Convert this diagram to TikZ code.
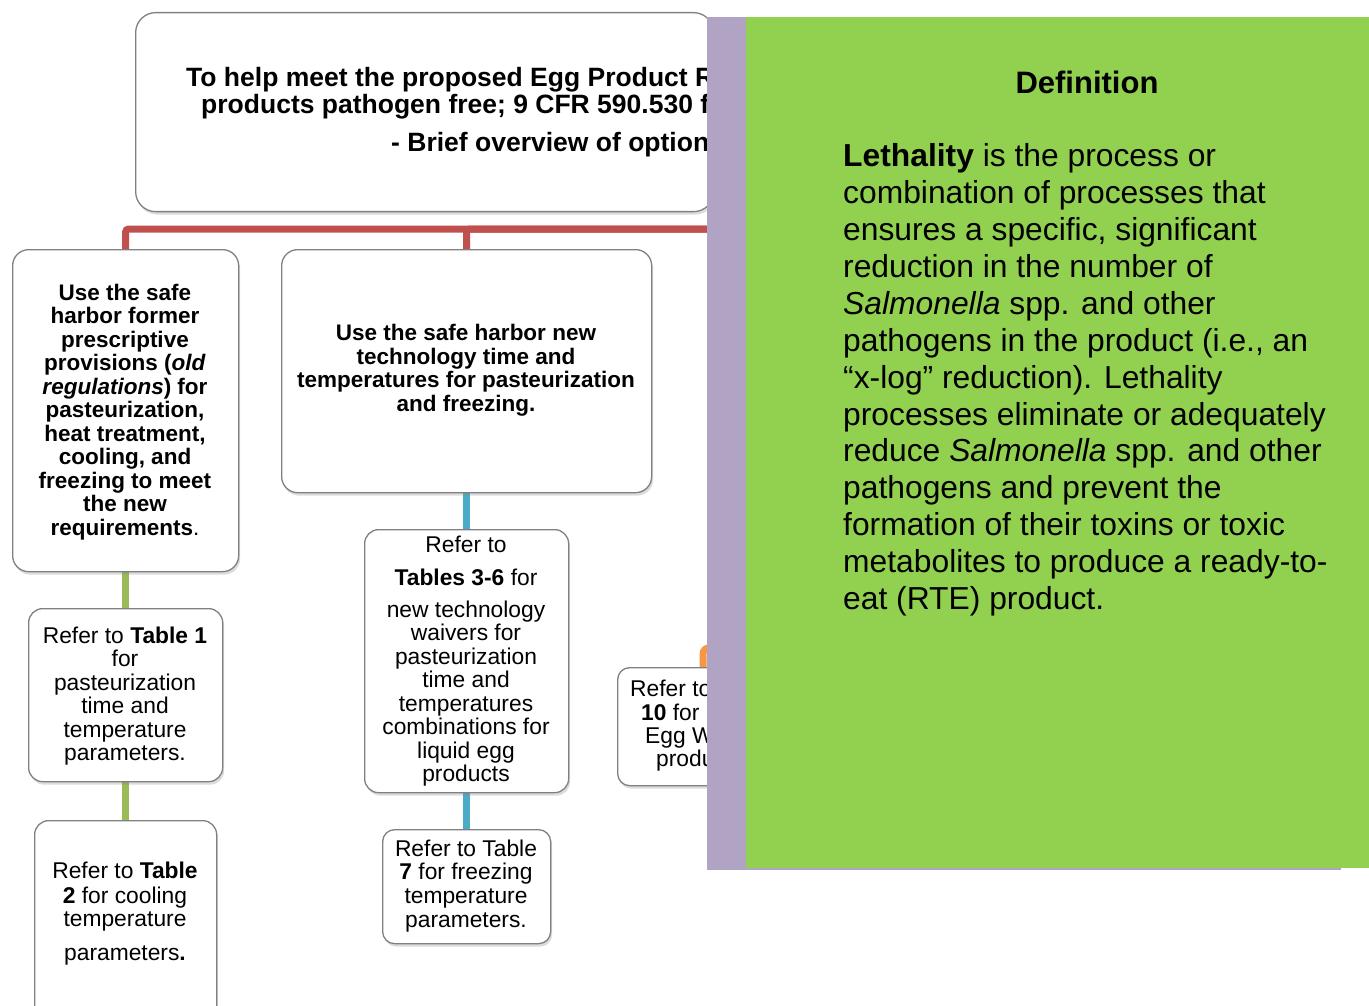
\documentclass[tikz,border=0pt]{standalone}
\usepackage{fontspec}
\setmainfont{Liberation Sans}
\usetikzlibrary{shadows,backgrounds}
\definecolor{cred}{HTML}{C0504D}
\definecolor{cgreenline}{HTML}{9BBB59}
\definecolor{cblue}{HTML}{4BACC6}
\definecolor{corange}{HTML}{F79646}
\definecolor{cpurple}{HTML}{B1A3C3}
\definecolor{cpanel}{HTML}{92D050}
\definecolor{boxgray}{HTML}{808080}
\newcommand{\myBold}{\fontsize{22.5}{23.5}\selectfont\bfseries}
\newcommand{\myReg}{\fontsize{22.8}{23.5}\selectfont}
\newcommand{\myTop}{\fontsize{26.5}{28}\selectfont\bfseries}
\newcommand{\myDef}{\fontsize{31.8}{36.9}\selectfont}
\begin{document}
\begin{tikzpicture}[x=1pt,y=-1pt,
  box/.style={draw=boxgray, line width=1.3pt, fill=white, rounded corners=#1,
    inner sep=0pt, anchor=north west,
    drop shadow={opacity=0.28, shadow xshift=1.5pt, shadow yshift=-3pt}},
  box/.default=16pt,
  txt/.style={inner sep=0pt, align=center, anchor=north},
  conn/.style={draw=#1, line width=7pt, rounded corners=3pt}
]
\useasboundingbox (0,0) rectangle (1369,1006);

% ---------- boxes ----------
\node[box=20pt, minimum width=578pt, minimum height=199pt] (top) at (135,12) {};
\node[box, minimum width=226pt, minimum height=322pt] (L1) at (12,249) {};
\node[box=14pt, minimum width=194pt, minimum height=173pt] (L2) at (28,608) {};
\node[box=14pt, minimum width=182pt, minimum height=200pt] (L3) at (34,820) {};
\node[box, minimum width=370pt, minimum height=243pt] (M1) at (281,249) {};
\node[box=14pt, minimum width=204pt, minimum height=263pt] (M2) at (364,529) {};
\node[box=12pt, minimum width=168pt, minimum height=114pt] (M3) at (382,829) {};
\node[box=12pt, minimum width=200pt, minimum height=118pt] (R) at (617,667) {};

% ---------- connectors ----------
\coordinate (topout) at (760,211);
\coordinate (oA) at (770,600);
\coordinate (ojoin) at (703,648);
\begin{scope}[on background layer]
\draw[conn=cred] (topout) -- ++(0,18) -| (L1.north);
\draw[conn=cred] (topout) -- ++(0,18) -| (M1.north);
\draw[conn=cgreenline] (L1.south) -- (L2.north);
\draw[conn=cgreenline] (L2.south) -- (L3.north);
\draw[conn=cblue] (M1.south) -- (M2.north);
\draw[conn=cblue] (M2.south) -- (M3.north);
\draw[conn=corange, rounded corners=6pt] (oA) |- (ojoin) -- (ojoin |- R.north);
\end{scope}

% ---------- texts ----------
\node[inner sep=0pt, anchor=base west, font=\myTop] (tt1) at (186,86.5) {To help meet the proposed Egg Product R};
\node[inner sep=0pt, anchor=base west, font=\myTop] (tt2) at (201,113.5) {products pathogen free; 9 CFR 590.530 f};
\node[inner sep=0pt, anchor=base west, font=\myTop] (tt3) at (391,152) {- Brief overview of options};

\node[txt, font=\myBold] (L1t) at (125,283.5) {Use the safe\\ harbor former\\ prescriptive\\ provisions (\textit{old}\\ \textit{regulations}) for\\ pasteurization,\\ heat treatment,\\ cooling, and\\ freezing to meet\\ the new\\ requirements\textmd{.}};

\node[txt, font=\myReg] (L2t) at (125,626.5) {Refer to \textbf{Table 1}\\ for\\ pasteurization\\ time and\\ temperature\\ parameters.};

\node[txt, font=\myReg] (L3t) at (125,861.5) {Refer to \textbf{Table}\\[1.5pt] \textbf{2} for cooling\\[-0.5pt] temperature\\[10.5pt] parameters\textbf{.}};

\node[txt, font=\myBold] (M1t) at (466,324) {Use the safe harbor new\\ technology time and\\ temperatures for pasteurization\\ and freezing.};

\node[txt, font=\myReg] (M2t) at (466,535.5) {Refer to\\[9.5pt] \textbf{Tables 3-6} for\\[8.5pt] new technology\\ waivers for\\ pasteurization\\ time and\\ temperatures\\ combinations for\\ liquid egg\\ products};

\node[txt, font=\myReg] (M3t) at (466,839.5) {Refer to Table\\ \textbf{7} for freezing\\ temperature\\[1pt] parameters.};

\node[inner sep=0pt, anchor=base west, font=\myReg] (Rt1) at (630,696) {Refer to};
\node[inner sep=0pt, anchor=base west, font=\myReg] (Rt2) at (641,720) {\textbf{10} for};
\node[inner sep=0pt, anchor=base west, font=\myReg] (Rt3) at (645,743) {Egg W};
\node[inner sep=0pt, anchor=base west, font=\myReg] (Rt4) at (656,766) {produ};

% ---------- definition panel ----------
\fill[cpurple] (707,17) rectangle (1341,870);
\fill[cpanel] (746,17) rectangle (1369,868);
\node[inner sep=0pt, anchor=base, font=\fontsize{31}{36}\selectfont\bfseries] (deftitle) at (1087,94) {Definition};
\node[inner sep=0pt, anchor=north west, align=left, font=\myDef] (defbody) at (843,143.5) {\textbf{Lethality} is the process or\\ combination of processes that\\ ensures a specific, significant\\ reduction in the number of\\ \textit{Salmonella} spp. and other\\ pathogens in the product (i.e., an\\ “x-log” reduction). Lethality\\ processes eliminate or adequately\\ reduce \textit{Salmonella} spp. and other\\ pathogens and prevent the\\ formation of their toxins or toxic\\ metabolites to produce a ready-to-\\ eat (RTE) product.};
\end{tikzpicture}
\end{document}
